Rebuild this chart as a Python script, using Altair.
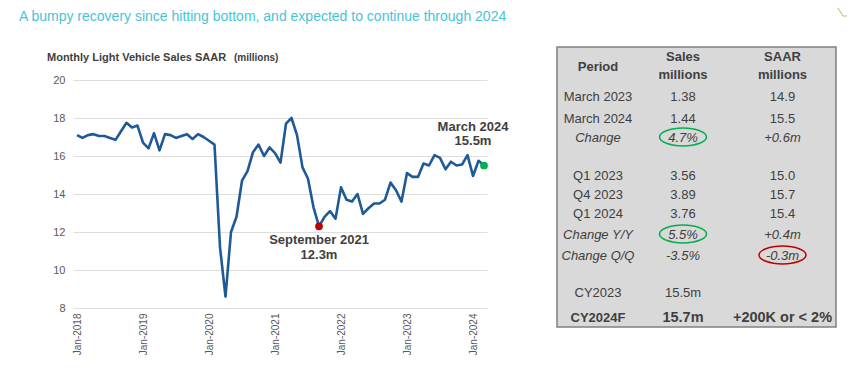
import altair as alt
import pandas as pd

# ---------------- data ----------------
TITLE = "A bumpy recovery since hitting bottom, and expected to continue through 2024"
PANEL_TITLE = "Monthly Light Vehicle Sales SAAR"
PANEL_UNIT = "(millions)"

FIRST_YEAR = 2018
# monthly light vehicle SAAR (millions), Jan-2018 .. Mar-2024
saar_millions = [
    17.1, 16.95, 17.1, 17.15, 17.05, 17.05, 16.95, 16.85, 17.3, 17.75, 17.5, 17.6,    # 2018
    16.7, 16.4, 17.2, 16.3, 17.15, 17.1, 16.95, 17.05, 17.15, 16.9, 17.15, 17.0,      # 2019
    16.8, 16.6, 11.2, 8.6, 12.0, 12.8, 14.7, 15.2, 16.2, 16.6, 16.0, 16.45,           # 2020
    16.15, 15.65, 17.7, 18.0, 17.1, 15.4, 14.8, 13.3, 12.3, 12.8, 13.1, 12.7,         # 2021
    14.35, 13.7, 13.6, 14.0, 12.95, 13.25, 13.5, 13.5, 13.7, 14.6, 14.2, 13.6,        # 2022
    15.1, 14.9, 14.9, 15.6, 15.5, 16.05, 15.9, 15.3, 15.7, 15.5, 15.55, 16.05,        # 2023
    14.95, 15.75, 15.5,                                                                # 2024
]
x_tick_years = [2018, 2019, 2020, 2021, 2022, 2023, 2024]
y_ticks = [8, 10, 12, 14, 16, 18, 20]

low_month_index = 44          # September 2021
low_label = ["September 2021", "12.3m"]
last_month_index = 74         # March 2024
last_label = ["March 2024", "15.5m"]

table_header = [["Period"], ["Sales", "millions"], ["SAAR", "millions"]]
table_period = ["March 2023", "March 2024", "Change", "Q1 2023", "Q4 2023", "Q1 2024",
                "Change Y/Y", "Change Q/Q", "CY2023", "CY2024F"]
table_sales = ["1.38", "1.44", "4.7%", "3.56", "3.89", "3.76", "5.5%", "-3.5%", "15.5m", "15.7m"]
table_saar = ["14.9", "15.5", "+0.6m", "15.0", "15.7", "15.4", "+0.4m", "-0.3m", "", "+200K or < 2%"]
italic_rows = ["Change", "Change Y/Y", "Change Q/Q"]
bold_rows = ["CY2024F"]
circled_cells = [("4.7%", "green"), ("5.5%", "green"), ("-0.3m", "red")]

# ---------------- layout (page pixels) ----------------
X0, Y0 = 73, 80                  # plot-area origin on the page
PW, PH = 414, 228
row_y = [97, 119, 138, 176, 195, 214, 235, 256, 293, 318]
col_x = [598, 683, 782.5]
header_y = [[67], [57, 75], [57, 75]]

TEXT = "#404040"
AXIS_TEXT = "#595959"
LINE = "#1f5a96"
RING = {"green": "#00b050", "red": "#c00000"}

def rx(x):
    return x - X0

def ry(y):
    return y - Y0

XS = alt.Scale(domain=[-4 / 5.5, (PW - 4) / 5.5], nice=False, zero=False)
YS = alt.Scale(domain=[8, 20], nice=False, zero=False)

# ---------------- line chart ----------------
line_df = pd.DataFrame({"i": list(range(len(saar_millions))), "v": saar_millions})

line = alt.Chart(line_df).mark_line(color=LINE, strokeWidth=2.6, strokeJoin="round").encode(
    x=alt.X("i:Q", scale=XS, title=None,
            axis=alt.Axis(values=[(y - FIRST_YEAR) * 12 for y in x_tick_years],
                          labelExpr="'Jan-' + (%d + datum.value / 12)" % FIRST_YEAR,
                          labelAngle=-90, grid=False, ticks=False, domain=False,
                          labelFontSize=10, labelColor=AXIS_TEXT, labelPadding=5)),
    y=alt.Y("v:Q", scale=YS, title=None,
            axis=alt.Axis(values=y_ticks, grid=True, gridColor="#dedede", gridWidth=1,
                          ticks=False, domain=False, labelFontSize=11,
                          labelColor=AXIS_TEXT, labelPadding=8)),
)

pts_df = pd.DataFrame({
    "i": [low_month_index, last_month_index],
    "v": [saar_millions[low_month_index], saar_millions[last_month_index]],
    "c": ["#c00000", "#00b050"],
})
points = alt.Chart(pts_df).mark_circle(size=60, opacity=1).encode(
    x=alt.X("i:Q", scale=XS, axis=None),
    y=alt.Y("v:Q", scale=YS, axis=None),
    color=alt.Color("c:N", scale=None),
)

def annot(idx, text, dx, dy):
    df = pd.DataFrame({"i": [idx], "v": [saar_millions[idx]], "t": [text]})
    return alt.Chart(df).mark_text(fontWeight="bold", fontSize=13, color=TEXT,
                                   dx=dx, dy=dy, baseline="middle", align="center").encode(
        x=alt.X("i:Q", scale=XS, axis=None),
        y=alt.Y("v:Q", scale=YS, axis=None),
        text="t:N",
    )

annots = [
    annot(low_month_index, low_label[0], 0, 14),
    annot(low_month_index, low_label[1], 0, 29),
    annot(last_month_index, last_label[0], -11, -39),
    annot(last_month_index, last_label[1], -11, -25),
]

# ---------------- overlay helpers (pixel positioned) ----------------
def px_text(df, **mark):
    return alt.Chart(df).mark_text(**mark).encode(
        x=alt.X("px:Q", scale=None, axis=None),
        y=alt.Y("py:Q", scale=None, axis=None),
        text="t:N",
    )

title_layer = px_text(pd.DataFrame({"t": [TITLE], "px": [rx(19)], "py": [ry(17)]}),
                      fontSize=14, color="#47c4d6", align="left", baseline="middle")
panel_title = px_text(pd.DataFrame({"t": [PANEL_TITLE], "px": [rx(47)], "py": [ry(58)]}),
                      fontSize=11, fontWeight="bold", color=TEXT, align="left", baseline="middle")
panel_unit = px_text(pd.DataFrame({"t": [PANEL_UNIT], "px": [rx(234)], "py": [ry(58)]}),
                     fontSize=10, fontWeight="bold", color=TEXT, align="left", baseline="middle")

# table background
box = alt.Chart(pd.DataFrame({"k": [0]})).mark_rect(
    fill="#d9d9d9", stroke="#808080", strokeWidth=1.5).encode(
    x=alt.value(rx(557)), x2=alt.value(rx(836)), y=alt.value(ry(47)), y2=alt.value(ry(327)))

# table header
hdr_rows = []
for c, lines in enumerate(table_header):
    for k, t in enumerate(lines):
        hdr_rows.append({"t": t, "px": rx(col_x[c]), "py": ry(header_y[c][k])})
header_layer = px_text(pd.DataFrame(hdr_rows), fontSize=13, fontWeight="bold", color=TEXT,
                       align="center", baseline="middle")

# table body
body = []
for r, (p, s, a) in enumerate(zip(table_period, table_sales, table_saar)):
    style = "italic" if p in italic_rows else ("bold" if p in bold_rows else "normal")
    for c, t in enumerate([p, s, a]):
        if t == "":
            continue
        fs = 14.5 if (style == "bold" and c > 0) else 13
        body.append({"t": t, "px": rx(col_x[c]), "py": ry(row_y[r]), "style": style, "fs": fs, "col": c})
body_df = pd.DataFrame(body)

def body_layer(style, **mark):
    df = body_df[body_df["style"] == style]
    return alt.Chart(df).mark_text(color=TEXT, align="center", baseline="middle", **mark).encode(
        x=alt.X("px:Q", scale=None, axis=None),
        y=alt.Y("py:Q", scale=None, axis=None),
        text="t:N",
        size=alt.Size("fs:Q", scale=None, legend=None),
    )

body_normal = body_layer("normal")
body_italic = body_layer("italic", fontStyle="italic")
body_bold = body_layer("bold", fontWeight="bold")

# rings around highlighted cells
ring_rows = []
for text, col in circled_cells:
    m = body_df[body_df["t"] == text].iloc[0]
    ring_rows.append({"px": m["px"], "py": m["py"] - 1, "c": RING[col]})
ELLIPSE = "M -1 0 A 1 0.38 0 1 1 1 0 A 1 0.38 0 1 1 -1 0 Z"
rings = alt.Chart(pd.DataFrame(ring_rows)).mark_point(
    shape=ELLIPSE, size=47 * 47, filled=False, strokeWidth=1.5, opacity=1).encode(
    x=alt.X("px:Q", scale=None, axis=None),
    y=alt.Y("py:Q", scale=None, axis=None),
    stroke=alt.Stroke("c:N", scale=None),
)

# decorative corner line
deco_df = pd.DataFrame({"k": [0]})
deco1 = alt.Chart(deco_df).mark_rule(color="#d8c08e", strokeWidth=1.2).encode(
    x=alt.value(rx(833)), y=alt.value(ry(0)), x2=alt.value(rx(843)), y2=alt.value(ry(16)))
deco2 = alt.Chart(deco_df).mark_rule(color="#d8c08e", strokeWidth=1.2).encode(
    x=alt.value(rx(843)), y=alt.value(ry(16)), x2=alt.value(rx(860)), y2=alt.value(ry(16)))

chart = alt.layer(
    line, points, *annots,
    title_layer, panel_title, panel_unit,
    box, header_layer, body_normal, body_italic, body_bold, rings,
    deco1, deco2,
).resolve_scale(x="independent", y="independent", size="independent", color="independent",
                stroke="independent").properties(
    width=PW, height=PH,
    padding={"left": 65, "top": 72, "right": 839 - 65 - PW, "bottom": 355 - 72 - PH},
    autosize=alt.AutoSizeParams(type="none"),
    background="white",
).configure(font="Liberation Sans").configure_view(stroke=None)

chart.save("out.html", embed_options={"renderer": "svg", "actions": False})
